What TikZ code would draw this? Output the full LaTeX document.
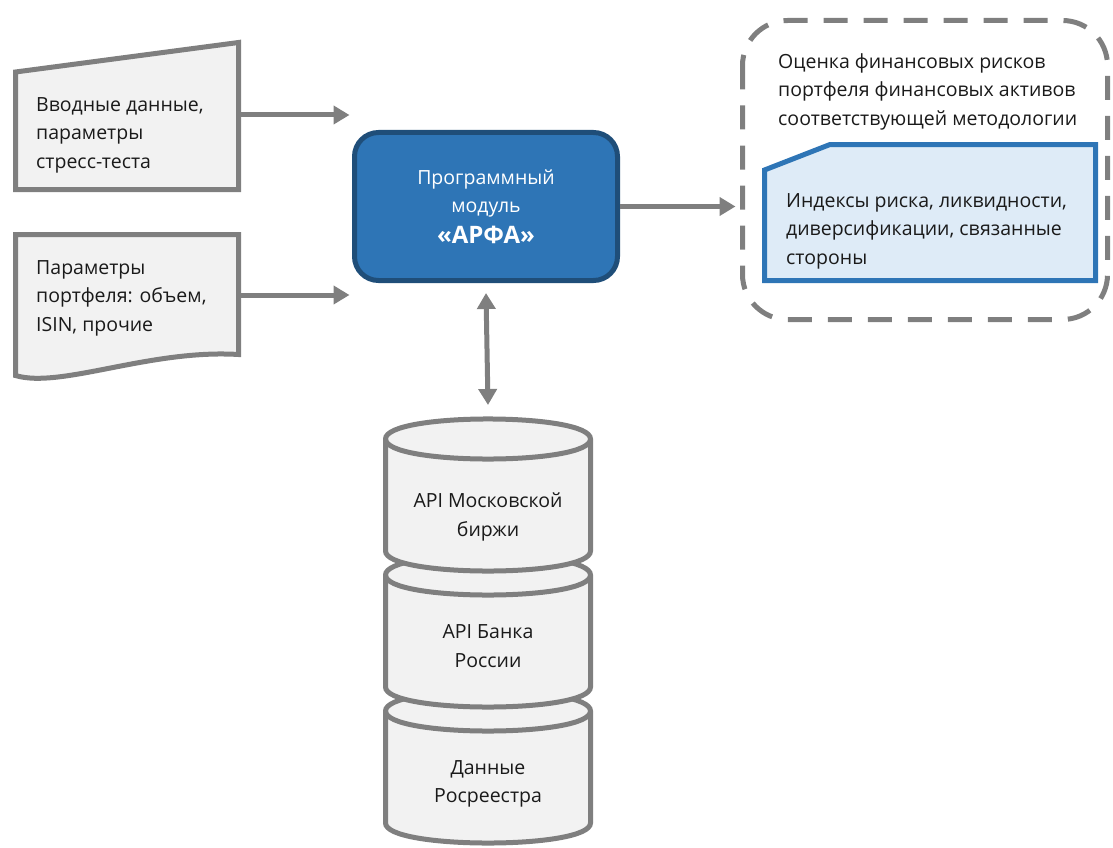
\documentclass[tikz,border=0pt]{standalone}
\usepackage{fontspec}
\setmainfont{Open Sans}
\usetikzlibrary{arrows.meta,calc}
\definecolor{lgray}{HTML}{F2F2F2}
\definecolor{sgray}{HTML}{7F7F7F}
\definecolor{mblue}{HTML}{2E75B6}
\definecolor{dblue}{HTML}{1F4E79}
\definecolor{lblue}{HTML}{DEEBF7}
\definecolor{tcol}{HTML}{1A1A1A}
\begin{document}
\begin{tikzpicture}[x=1pt,y=-1pt,
  txt/.style={font=\fontsize{19.5}{28.5}\selectfont, text=tcol, align=left, inner sep=0pt},
  ctxt/.style={txt, align=center},
  region/.style={inner sep=0pt, outer sep=0pt, draw=none},
  grayshape/.style={draw=sgray, fill=lgray, line width=5pt, line join=miter},
  conn/.style={draw=sgray, line width=5pt, -{Triangle[length=16pt,width=18pt]}},
  dconn/.style={draw=sgray, line width=5pt, {Triangle[length=16pt,width=18pt]}-{Triangle[length=16pt,width=18pt]}},
  mainbox/.style={draw=dblue, fill=mblue, line width=5pt, rounded corners=24pt, text=white, align=center, font=\fontsize{19.5}{28.5}\selectfont},
  outerbox/.style={draw=sgray, line width=5pt, rounded corners=45pt, dash pattern=on 24pt off 16pt},
  cardshape/.style={draw=mblue, fill=lblue, line width=5pt, line join=miter}
]
\useasboundingbox (0,0) rectangle (1113,848);

% ---- input 1 (manual input shape)
\node[region, minimum width=223pt, minimum height=147pt] (in1) at (127,116) {};
\draw[grayshape] ($(in1.north west)+(0,29.5)$) -- (in1.north east) -- (in1.south east) -- (in1.south west) -- cycle;
\node[txt, anchor=west] (t1) at (36,135) {Вводные данные,\\параметры\\стресс-теста};

% ---- input 2 (document shape)
\node[region, minimum width=223pt, minimum height=120pt] (in2) at (127,294.5) {};
\draw[grayshape] (in2.north west) -- (in2.north east) -- ($(in2.north east)+(0,120)$)
  .. controls (150,349) and (60,389) .. ($(in2.north west)+(0,141)$) -- cycle;
\node[txt, anchor=west] (t2) at (36,298) {Параметры\\портфеля: объем,\\ISIN, прочие};

% ---- main module
\node[mainbox, minimum width=263pt, minimum height=148pt] (main) at (486,206.5)
  {Программный\\модуль\\[2pt]{\fontsize{24}{28}\selectfont\bfseries «АРФА»}};

% ---- output group
\node[region, minimum width=365pt, minimum height=299pt] (outer) at (925,170) {};
\draw[outerbox] (outer.north west) rectangle (outer.south east);
\node[txt, anchor=north west] (t3) at (778,53) {Оценка финансовых рисков\\портфеля финансовых активов\\соответствующей методологии};
\node[region, minimum width=331pt, minimum height=136pt] (card) at (930,212.5) {};
\draw[cardshape] ($(card.north west)+(0,25.5)$) -- ($(card.north west)+(65.5,0)$) -- (card.north east) -- (card.south east) -- (card.south west) -- cycle;
\node[txt, anchor=west] (t4) at (786,231) {Индексы риска, ликвидности,\\диверсификации, связанные\\стороны};

% ---- databases (drawn bottom to top)
\foreach \T/\nm in {711/db3, 575/db2, 439/db1}{
  \pgfmathsetmacro{\B}{\T+112}
  \pgfmathsetmacro{\Tu}{\T-26.7}
  \pgfmathsetmacro{\Td}{\T+26.7}
  \pgfmathsetmacro{\Bd}{\B+26.7}
  \draw[grayshape] (385.5,\T) -- (385.5,\B) .. controls (385.5,\Bd) and (590.5,\Bd) .. (590.5,\B)
     -- (590.5,\T) .. controls (590.5,\Tu) and (385.5,\Tu) .. (385.5,\T) -- cycle;
  \draw[draw=sgray, line width=5pt] (385.5,\T) .. controls (385.5,\Td) and (590.5,\Td) .. (590.5,\T);
}
\node[ctxt] (db1) at (488,517) {API Московской\\биржи};
\node[ctxt] (db2) at (488,646) {API Банка\\России};
\node[ctxt] (db3) at (488,784) {Данные\\Росреестра};
\coordinate (db1top) at (488,405);

% ---- connectors
\coordinate (m1) at ($(main.north west)+(-2.5,-15)$);
\coordinate (m2) at ($(main.south west)+(-2.5,12)$);
\draw[conn] (in1.east |- m1) -- (m1);
\draw[conn] (in2.east |- m2) -- (m2);
\draw[conn] (main.east) -- ($(outer.west |- main.east)+(-7,0)$);
\draw[dconn] ($(main.south)+(0,10)$) -- (db1top);
\end{tikzpicture}
\end{document}
